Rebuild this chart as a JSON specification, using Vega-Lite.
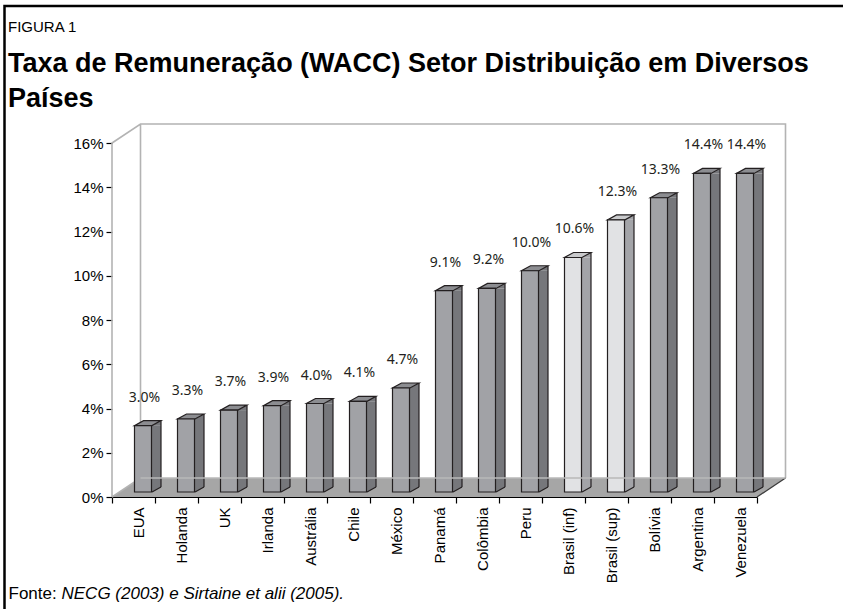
{
  "$schema": "https://vega.github.io/schema/vega-lite/v6.json",
  "autosize": "none",
  "width": 645,
  "height": 354,
  "padding": {"left": 112, "top": 143, "right": 86, "bottom": 112},
  "background": "white",
  "config": {"view": {"stroke": null}},
  "title": {
    "text": "FIGURA 1",
    "subtitle": ["Taxa de Remuneração (WACC) Setor Distribuição em Diversos", "Países"],
    "anchor": "start",
    "frame": "group",
    "offset": -111,
    "dx": -104,
    "font": "Liberation Sans",
    "fontSize": 15,
    "fontWeight": "normal",
    "color": "#000000",
    "subtitleFont": "Liberation Sans",
    "subtitleFontSize": 27,
    "subtitleFontWeight": "bold",
    "subtitleColor": "#000000",
    "subtitleLineHeight": 35,
    "subtitlePadding": 16
  },
  "data": {
    "values": [
      {"pais": "EUA", "wacc": 0.030, "brasil": false},
      {"pais": "Holanda", "wacc": 0.033, "brasil": false},
      {"pais": "UK", "wacc": 0.037, "brasil": false},
      {"pais": "Irlanda", "wacc": 0.039, "brasil": false},
      {"pais": "Austrália", "wacc": 0.040, "brasil": false},
      {"pais": "Chile", "wacc": 0.041, "brasil": false},
      {"pais": "México", "wacc": 0.047, "brasil": false},
      {"pais": "Panamá", "wacc": 0.091, "brasil": false},
      {"pais": "Colômbia", "wacc": 0.092, "brasil": false},
      {"pais": "Peru", "wacc": 0.100, "brasil": false},
      {"pais": "Brasil (inf)", "wacc": 0.106, "brasil": true},
      {"pais": "Brasil (sup)", "wacc": 0.123, "brasil": true},
      {"pais": "Bolívia", "wacc": 0.133, "brasil": false},
      {"pais": "Argentina", "wacc": 0.144, "brasil": false},
      {"pais": "Venezuela", "wacc": 0.144, "brasil": false}
    ]
  },
  "encoding": {
    "x": {
      "field": "pais", "type": "nominal", "sort": null,
      "scale": {"type": "band", "domain": ["EUA","Holanda","UK","Irlanda","Austrália","Chile","México","Panamá","Colômbia","Peru","Brasil (inf)","Brasil (sup)","Bolívia","Argentina","Venezuela"], "paddingInner": 0, "paddingOuter": 0},
      "axis": {
        "orient": "bottom",
        "labelAngle": -90, "labelAlign": "right", "labelBaseline": "middle",
        "labelFont": "Liberation Sans", "labelFontSize": 15, "labelColor": "#000000",
        "labelPadding": 4, "labelOffset": 5, "labelOverlap": false,
        "tickBand": "extent", "tickColor": "#000000", "tickSize": 6, "tickWidth": 1.2,
        "domainColor": "#000000", "domainWidth": 1.2, "grid": false,
        "title": "NECG (2003) e Sirtaine et alii (2005).",
        "titleFont": "Liberation Sans", "titleFontSize": 17, "titleFontStyle": "italic", "titleFontWeight": "normal",
        "titleColor": "#000000", "titleAlign": "left", "titleAnchor": "start", "titleBaseline": "alphabetic",
        "titleX": -51, "titleY": 101
      }
    },
    "y": {
      "field": "wacc", "type": "quantitative",
      "scale": {"domain": [0, 0.16], "nice": false, "zero": true},
      "axis": {
        "orient": "left",
        "values": [0, 0.02, 0.04, 0.06, 0.08, 0.1, 0.12, 0.14, 0.16], "format": ".0%",
        "labelFont": "Liberation Sans", "labelFontSize": 15, "labelColor": "#000000", "labelPadding": 3,
        "tickColor": "#000000", "tickSize": 6, "tickWidth": 1.2,
        "domain": false, "grid": false,
        "title": "Fonte:", "titleAngle": 0, "titleX": -104, "titleY": 455,
        "titleAlign": "left", "titleBaseline": "alphabetic",
        "titleFont": "Liberation Sans", "titleFontSize": 17, "titleFontWeight": "normal", "titleColor": "#000000"
      }
    }
  },
  "layer": [
    {
      "transform": [{"filter": "datum.pais === 'EUA'"}],
      "mark": {"type": "point", "shape": "M-107.5,115L-107.5,-491L740,-491", "size": 4, "filled": false, "stroke": "#000000", "strokeWidth": 2.5, "opacity": 1},
      "encoding": {
        "x": {"field": "pais", "type": "nominal", "bandPosition": 0},
        "y": {"datum": 0, "type": "quantitative"}
      }
    },
    {
      "transform": [{"filter": "datum.pais === 'EUA'"}],
      "mark": {"type": "point", "shape": "M0,0L645,0L673.5,-19L28.5,-19Z", "size": 4, "filled": true, "fill": "#a6a6a6", "strokeWidth": 0, "opacity": 1},
      "encoding": {
        "x": {"field": "pais", "type": "nominal", "bandPosition": 0},
        "y": {"datum": 0, "type": "quantitative"}
      }
    },
    {
      "transform": [{"filter": "datum.pais === 'EUA'"}],
      "mark": {"type": "point", "shape": "M0,0L0,-354L28.5,-373L673.5,-373L673.5,-19M0,0L28.5,-19L28.5,-373", "size": 4, "filled": false, "stroke": "#b3b3b3", "strokeWidth": 1.6, "opacity": 1},
      "encoding": {
        "x": {"field": "pais", "type": "nominal", "bandPosition": 0},
        "y": {"datum": 0, "type": "quantitative"}
      }
    },
    {
      "transform": [{"filter": "datum.pais === 'EUA'"}],
      "mark": {"type": "point", "shape": "M645,0L673.5,-19", "size": 4, "filled": false, "stroke": "#3a3a3a", "strokeWidth": 1.2, "opacity": 1},
      "encoding": {
        "x": {"field": "pais", "type": "nominal", "bandPosition": 0},
        "y": {"datum": 0, "type": "quantitative"}
      }
    },
    {
      "mark": {"type": "bar", "width": 9, "xOffset": 23, "yOffset": -5, "y2Offset": -10, "strokeWidth": 0},
      "encoding": {
        "y2": {"datum": 0},
        "fill": {"condition": {"test": "datum.brasil", "value": "#a3a4a8"}, "value": "#76777b"}
      }
    },
    {
      "mark": {"type": "point", "shape": "M18.5,-5L27.5,-10L27.5,-5Z", "size": 4, "filled": true, "strokeWidth": 0, "opacity": 1},
      "encoding": {
        "fill": {"condition": {"test": "datum.brasil", "value": "#a3a4a8"}, "value": "#76777b"}
      }
    },
    {
      "mark": {"type": "point", "shape": "M18.5,-10L18.5,-5L27.5,-10Z", "size": 4, "filled": true, "strokeWidth": 0, "opacity": 1},
      "encoding": {
        "y": {"datum": 0, "type": "quantitative"},
        "fill": {"condition": {"test": "datum.brasil", "value": "#a3a4a8"}, "value": "#76777b"}
      }
    },
    {
      "mark": {"type": "rule", "xOffset": 27.5, "yOffset": -10, "y2Offset": -10, "stroke": "#231f20", "strokeWidth": 1.2},
      "encoding": {
        "y2": {"datum": 0}
      }
    },
    {
      "mark": {"type": "point", "shape": "M18.5,-5L27.5,-10", "size": 4, "filled": false, "stroke": "#231f20", "strokeWidth": 1.2, "opacity": 1},
      "encoding": {
        "y": {"datum": 0, "type": "quantitative"}
      }
    },
    {
      "mark": {"type": "point", "shape": "M1,-5L18.5,-5L27.5,-10L10,-10Z", "size": 4, "filled": true, "stroke": "#231f20", "strokeWidth": 1.2, "opacity": 1},
      "encoding": {
        "fill": {"condition": {"test": "datum.brasil", "value": "#c9cacc"}, "value": "#8c8d91"}
      }
    },
    {
      "mark": {"type": "bar", "width": 17, "xOffset": 9.5, "yOffset": -5, "y2Offset": -5, "stroke": "#231f20", "strokeWidth": 1.2},
      "encoding": {
        "y2": {"datum": 0},
        "fill": {"condition": {"test": "datum.brasil", "value": "#e1e2e4"}, "value": "#a1a2a6"}
      }
    },
    {
      "transform": [{"filter": "datum.pais === 'EUA'"}],
      "mark": {"type": "point", "shape": "M28.5,-19L673.5,-19", "size": 4, "filled": false, "stroke": "#b8b8b8", "strokeWidth": 1.5, "opacity": 1},
      "encoding": {
        "x": {"field": "pais", "type": "nominal", "bandPosition": 0},
        "y": {"datum": 0, "type": "quantitative"}
      }
    },
    {
      "mark": {"type": "text", "dx": 11, "dy": -33, "align": "center", "baseline": "middle", "font": "Noto Sans", "fontSize": 14, "fill": "#231f20"},
      "encoding": {
        "text": {"field": "wacc", "type": "quantitative", "format": ".1%"}
      }
    }
  ]
}
